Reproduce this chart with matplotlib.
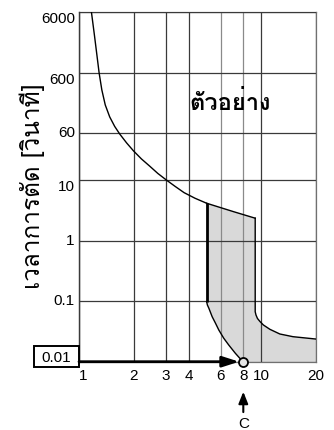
import numpy as np
import matplotlib
matplotlib.use("Agg")
import matplotlib.pyplot as plt
import matplotlib.font_manager as fm
from matplotlib.ft2font import FT2Font
from matplotlib.patches import Rectangle
from matplotlib.ticker import NullLocator

# ---------------- data ----------------
x_ticks = [1, 2, 3, 4, 6, 8, 10, 20]
x_labels = ["1", "2", "3", "4", "6", "8", "10", "20"]
y_ticks = [0.01, 0.1, 1, 10, 60, 600, 6000]
y_labels = ["", "0.1", "1", "10", "60", "600", "6000"]

curve_x = [1.170, 1.215, 1.254, 1.290, 1.335, 1.394, 1.475, 1.571, 1.673, 1.827,
           1.994, 2.204, 2.438, 2.712, 3.017, 3.378, 3.782, 4.342, 5.03]
curve_y = [6026, 2512, 1173, 591, 309.7, 175, 110.8, 77.2, 58.0, 41.2,
           30.4, 22.4, 17.2, 12.9, 10.08, 7.87, 6.21, 5.02, 4.15]

band_top_x = [5.03, 7.08, 9.30]
band_top_y = [4.15, 3.01, 2.35]
band_left_x = [5.03, 5.03]
band_left_y = [4.15, 0.0981]
band_lowleft_x = [5.03, 5.078, 5.175, 5.394, 5.629, 5.867, 6.247, 6.651, 7.234, 7.958]
band_lowleft_y = [0.0981, 0.0865, 0.0763, 0.0554, 0.0431, 0.0334, 0.0244, 0.0189, 0.01377, 0.01]
band_right_x = [9.30, 9.30, 9.393, 9.570, 9.90, 10.32, 11.2, 12.7, 15.0, 20.0]
band_right_y = [2.35, 0.067, 0.0591, 0.0518, 0.0458, 0.0404, 0.0343, 0.0287, 0.0259, 0.0237]
band_bottom_x = [20.0, 7.958]
band_bottom_y = [0.01, 0.01]

point_c = 8
point_t = 0.01
boxed_label = "0.01"
title_text = "ตัวอย่าง"
ylabel_text = "เวลาการตัด [วินาที]"
c_text = "C"

# ---------------- fonts ----------------
thai_reg, thai_bold = None, None
for fe in fm.fontManager.ttflist:
    if str(fe.style).lower() != 'normal':
        continue
    try:
        cm = FT2Font(fe.fname).get_charmap()
    except Exception:
        continue
    if 0x0E15 in cm and 0x0E35 in cm:
        w = fe.weight if isinstance(fe.weight, int) else (700 if 'bold' in str(fe.weight).lower() else 400)
        if w >= 600:
            if thai_bold is None:
                thai_bold = fe.fname
        elif w >= 350:
            if thai_reg is None:
                thai_reg = fe.fname
if thai_reg is None:
    thai_reg = thai_bold
if thai_bold is None:
    thai_bold = thai_reg

if thai_reg:
    fp_reg = fm.FontProperties(fname=thai_reg, size=17.5)
    fp_bold = fm.FontProperties(fname=thai_bold, size=17, weight='bold')
else:
    fp_reg = fm.FontProperties(family='DejaVu Sans', size=17.5)
    fp_bold = fm.FontProperties(family='DejaVu Sans', size=17, weight='bold')

plt.rcParams['font.family'] = ['Liberation Sans', 'DejaVu Sans']

# ---------------- figure ----------------
fig = plt.figure(figsize=(3.34, 4.30), dpi=100)
fig.patch.set_facecolor('white')
ax = fig.add_axes([79 / 334, (430 - 361.7) / 430, 236.7 / 334, 349.7 / 430])
ax.set_xscale('log')
ax.set_yscale('log')
ax.set_xlim(1, 20)
ax.set_ylim(0.01, 6000)

ax.set_xticks(x_ticks)
ax.set_xticklabels(x_labels, fontsize=11)
ax.set_yticks(y_ticks)
ax.set_yticklabels(y_labels, fontsize=11)
ax.xaxis.set_minor_locator(NullLocator())
ax.yaxis.set_minor_locator(NullLocator())
ax.tick_params(axis='both', length=0)
ax.tick_params(axis='x', pad=5)
ax.tick_params(axis='y', pad=3)
ax.xaxis.get_ticklabels()[0].set_ha('left')

for lab, txt in zip(ax.get_yticklabels(), y_labels):
    if txt in ("6000", "600", "10"):
        lab.set_va('top')
    else:
        lab.set_va('center')

ax.set_axisbelow(False)
ax.grid(True, which='major', color='#3a3a3a', lw=0.9)
for t, gl in zip(x_ticks, ax.xaxis.get_gridlines()):
    if t in (6, 8):
        gl.set_color('#8a8a8a')

for side in ('top', 'right', 'bottom'):
    ax.spines[side].set_color('#707070')
    ax.spines[side].set_linewidth(0.9)
ax.spines['left'].set_color('#222222')
ax.spines['left'].set_linewidth(1.0)

# shaded zone
poly_x = band_top_x + band_right_x[1:] + band_bottom_x + band_lowleft_x[::-1][1:] + band_left_x[::-1][1:]
poly_y = band_top_y + band_right_y[1:] + band_bottom_y + band_lowleft_y[::-1][1:] + band_left_y[::-1][1:]
ax.fill(poly_x, poly_y, color='#d9d9d9', zorder=1, lw=0)

ax.plot(curve_x, curve_y, color='black', lw=1.0, zorder=3)
ax.plot(band_top_x, band_top_y, color='black', lw=1.0, zorder=3)
ax.plot(band_right_x, band_right_y, color='black', lw=1.0, zorder=3)
ax.plot(band_left_x, band_left_y, color='black', lw=2.0, zorder=3, solid_capstyle='butt')
ax.plot(band_lowleft_x, band_lowleft_y, color='black', lw=1.0, zorder=3)

# arrow along the bottom to point C
ax.annotate('', xy=(point_c, point_t), xytext=(x_ticks[0], point_t),
            arrowprops=dict(arrowstyle='-|>,head_length=0.5,head_width=0.16',
                            mutation_scale=20, lw=2.0, color='black',
                            shrinkA=0, shrinkB=3),
            annotation_clip=False, zorder=6)
ax.plot([point_c], [point_t], marker='o', ms=6.5, mfc='#e6e6e6', mec='black',
        mew=1.3, clip_on=False, zorder=7)

# C marker below the axis
xt = ax.get_xaxis_transform()
ax.annotate(c_text, xy=(point_c, -0.0858), xycoords=xt,
            xytext=(point_c, -0.178), textcoords=xt,
            ha='center', va='center', fontsize=11,
            arrowprops=dict(arrowstyle='-|>,head_length=0.5,head_width=0.2',
                            mutation_scale=14, lw=1.5, color='black',
                            shrinkA=1.5, shrinkB=0),
            annotation_clip=False)

# boxed 0.01 label
ax.add_patch(Rectangle((-0.1901, -0.016), 0.1914, 0.0609, transform=ax.transAxes,
                       fill=True, fc='white', ec='black', lw=1.4, clip_on=False, zorder=5))
ax.text(-0.0963, 0.0097, boxed_label, transform=ax.transAxes, ha='center', va='center',
        fontsize=11, zorder=6)

# texts
ax.text(0.638, 0.72, title_text, transform=ax.transAxes, ha='center', va='baseline',
        fontproperties=fp_bold, zorder=8)
fig.text(32 / 334, (430 - 186) / 430, ylabel_text, rotation=90, ha='center', va='center',
         fontproperties=fp_reg)

fig.savefig('out.png', dpi=100)
